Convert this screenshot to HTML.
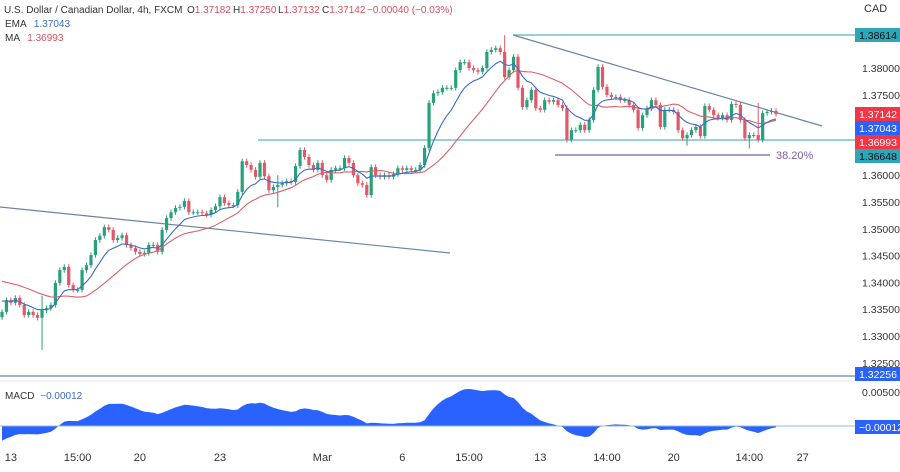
<!DOCTYPE html>
<html><head><meta charset="utf-8"><style>
body{margin:0;background:#fff;font-family:"Liberation Sans",sans-serif}
svg text{font-family:"Liberation Sans",sans-serif}
</style></head><body>
<svg id="c" width="900" height="467" viewBox="0 0 900 467">
<g id="grid">
<line x1="0" y1="207" x2="450" y2="253" stroke="#6a84a8" stroke-width="1.2"/>
<line x1="513" y1="35" x2="855" y2="35" stroke="#5ab8c2" stroke-width="1.3"/>
<line x1="258" y1="140" x2="855" y2="140" stroke="#5ab8c2" stroke-width="1.3"/>
<line x1="555" y1="155" x2="770" y2="155" stroke="#7b5ea8" stroke-width="1.2"/>
<text x="776" y="159" font-size="11" fill="#7b5ea8">38.20%</text>
<line x1="513" y1="35" x2="822" y2="126" stroke="#6a84a8" stroke-width="1.2"/>
<line x1="0" y1="376" x2="855" y2="376" stroke="#6a84a8" stroke-width="1.3"/>
<line x1="0" y1="381" x2="855" y2="381" stroke="#e6e6e6" stroke-width="1"/>
</g>
<g id="candles"></g>
<g id="ind"></g>
<g id="macd"></g>
<g id="axis"></g>
<g font-size="10">
<text x="4" y="13" fill="#333">U.S. Dollar / Canadian Dollar, 4h, FXCM</text>
<text x="187" y="13" fill="#333">O<tspan fill="#d9505e">1.37182</tspan></text>
<text x="233" y="13" fill="#333">H<tspan fill="#d9505e">1.37250</tspan></text>
<text x="278" y="13" fill="#333">L<tspan fill="#d9505e">1.37132</tspan></text>
<text x="322" y="13" fill="#333">C<tspan fill="#d9505e">1.37142</tspan></text>
<text x="367" y="13" fill="#d9505e">−0.00040 (−0.03%)</text>
<text x="5" y="27" fill="#333">EMA <tspan fill="#3a6bc8" dx="5">1.37043</tspan></text>
<text x="5" y="41" fill="#333">MA <tspan fill="#d9505e" dx="5">1.36993</tspan></text>
<text x="5" y="399" fill="#333">MACD <tspan fill="#3a6bc8" dx="3">−0.00012</tspan></text>
</g>
<g id="xaxis"></g>
</svg>
<script>
const closes = [1.3345,1.3367,1.3362,1.3371,1.3358,1.3339,1.3345,1.3339,1.3334,1.3348,1.3352,1.3358,1.3399,1.3423,1.3429,1.3395,1.3386,1.3386,1.3423,1.3432,1.3451,1.3479,1.3487,1.3503,1.3498,1.3479,1.3483,1.3488,1.3470,1.3464,1.3457,1.3453,1.3455,1.3470,1.3470,1.3457,1.3498,1.3520,1.3531,1.3539,1.3541,1.3552,1.3531,1.3531,1.3531,1.3529,1.3526,1.3535,1.3542,1.3559,1.3548,1.3544,1.3544,1.3569,1.3626,1.3619,1.3610,1.3597,1.3623,1.3598,1.3572,1.3578,1.3582,1.3585,1.3589,
1.3587,1.3617,1.3647,1.3634,1.3619,1.3610,1.3623,1.3600,1.3591,1.3610,1.3613,1.3613,1.3632,1.3623,1.3600,1.3585,1.3582,1.3563,1.3615,1.3600,1.3597,1.3600,1.3597,1.3602,1.3613,1.3610,1.3613,1.3610,1.3610,1.3619,1.3651,1.3735,1.3753,1.3755,1.3763,1.3763,1.3763,1.3796,1.3811,1.3811,1.3800,1.3796,1.3793,1.3800,1.3830,1.3834,1.3837,1.3830,
1.3783,1.3796,1.3821,1.3763,1.3727,1.3740,1.3759,1.3725,1.3722,1.3740,1.3737,1.3740,1.3731,1.3725,1.3666,1.3684,1.3684,1.3694,1.3684,1.3703,1.3759,1.3802,1.3765,1.3750,1.3746,1.3746,1.3740,1.3740,1.3731,1.3722,1.3688,1.3712,1.3725,1.3740,1.3731,1.3690,1.3722,1.3722,1.3718,1.3684,1.3669,1.3675,1.3684,1.3690,1.3673,1.3729,1.3722,1.3712,1.3707,1.3712,1.3703,1.3733,1.3731,1.3703,1.3669,1.3675,1.3675,1.3666,1.3716,1.3718,1.3720,1.3714];
const firstOpen = 1.3335;
const highIdx = [9, 113, 62, 170];
const highVals = [1.3375, 1.38614, 1.3600, 1.3735];
const lowIdx = [9, 62, 168, 154];
const lowVals = [1.3274, 1.3540, 1.3650, 1.3655];
const priceTicks = [1.38, 1.375, 1.36, 1.355, 1.35, 1.345, 1.34, 1.335, 1.33, 1.325];
const timeLabels = ["13","15:00","20","23","Mar","6","15:00","13","14:00","20","14:00","27"];
const timeIdx = [2, 17, 31, 49, 72, 90, 105, 121, 136, 151, 168, 180];

const NS="http://www.w3.org/2000/svg";
function mk(tag, attrs, parent){const e=document.createElementNS(NS,tag);for(const k in attrs)e.setAttribute(k,attrs[k]);parent.appendChild(e);return e;}
const yP = p => 68 + (1.38 - p) / 0.005 * 26.8;
const N = closes.length, step = 774 / (N - 1);
const xI = i => 2 + i * step;
const GREEN="#26a17b", RED="#e35866";
const cg=document.getElementById('candles');
for(let i=0;i<N;i++){
  const o=i===0?firstOpen:closes[i-1], c=closes[i];
  let h=Math.max(o,c)+0.0005, l=Math.min(o,c)-0.0005;
  const hi=highIdx.indexOf(i); if(hi>=0) h=highVals[hi];
  const li=lowIdx.indexOf(i); if(li>=0) l=lowVals[li];
  const col=c>=o?GREEN:RED, x=xI(i);
  const w=mk('line',{x1:x,x2:x,y1:yP(h),y2:yP(l),stroke:col,'stroke-width':1},cg);
  
  
  const top=yP(Math.max(o,c)), bh=Math.max(1,yP(Math.min(o,c))-top);
  const b=mk('rect',{x:x-1.6,y:top,width:3.2,height:bh,fill:col},cg);
  
  
}
function ema(arr,n,seed){const k=2/(n+1);let e=seed;return arr.map(v=>e=v*k+e*(1-k));}
const ema9=ema(closes,9,1.3370);
const ma=closes.map((v,i)=>{const s=closes.slice(Math.max(0,i-19),i+1);const pad=20-s.length;return (s.reduce((a,b)=>a+b,0)+pad*1.3405)/20;});
const ig=document.getElementById('ind');
const path=a=>a.map((v,i)=>(i?'L':'M')+xI(i).toFixed(1)+' '+yP(v).toFixed(1)).join(' ');
const mp=mk('path',{d:path(ma),fill:'none',stroke:'#d9606c','stroke-width':1.1},ig);


const ep=mk('path',{d:path(ema9),fill:'none',stroke:'#3a6bc8','stroke-width':1.1},ig);


const e12=ema(closes,12,1.3345), e26=ema(closes,26,1.3368);
const macdV=e12.map((v,i)=>v-e26[i]);
const yM=v=>426.2-v*6860;
const mg=document.getElementById('macd');
let d='M'+xI(0)+' '+yM(0);
macdV.forEach((v,i)=>{d+=' L'+xI(i).toFixed(1)+' '+yM(v).toFixed(1);});
d+=' L'+xI(N-1)+' '+yM(0)+' Z';
const ma2=mk('path',{d:d,fill:'#2962ff',stroke:'none'},mg);


const z=mk('line',{x1:0,x2:855,y1:426,y2:426,stroke:'#8fb8d8','stroke-width':1},mg);


const ax=document.getElementById('axis');
const cad=mk('text',{x:864,y:12,'font-size':11,fill:'#333'},ax);cad.textContent='CAD';


priceTicks.forEach(p=>{const t=mk('text',{x:862,y:yP(p)+4,'font-size':10.5,fill:'#333'},ax);t.textContent=p.toFixed(5);

});
const m5=mk('text',{x:862,y:396,'font-size':10.5,fill:'#333'},ax);m5.textContent='0.00500';


const boxes=[[35,'#2aa7b8','#111','1.38614'],[114,'#f23645','#fff','1.37142'],[128,'#2962ff','#fff','1.37043'],[142,'#f23645','#fff','1.36993'],[156,'#2aa7b8','#111','1.36648'],[374,'#2962ff','#fff','1.32256'],[427,'#2962ff','#fff','−0.00012']];
boxes.forEach(b=>{const r=mk('rect',{x:855,y:b[0]-7,width:45,height:14,fill:b[1]},ax);


const t=mk('text',{x:859,y:b[0]+4,'font-size':10.5,fill:b[2]},ax);t.textContent=b[3];

});
const xa=document.getElementById('xaxis');
timeLabels.forEach((s,i)=>{const t=mk('text',{x:xI(timeIdx[i]),y:461,'font-size':11,fill:'#333','text-anchor':'middle'},xa);t.textContent=s;

});
</script>
</body></html>
